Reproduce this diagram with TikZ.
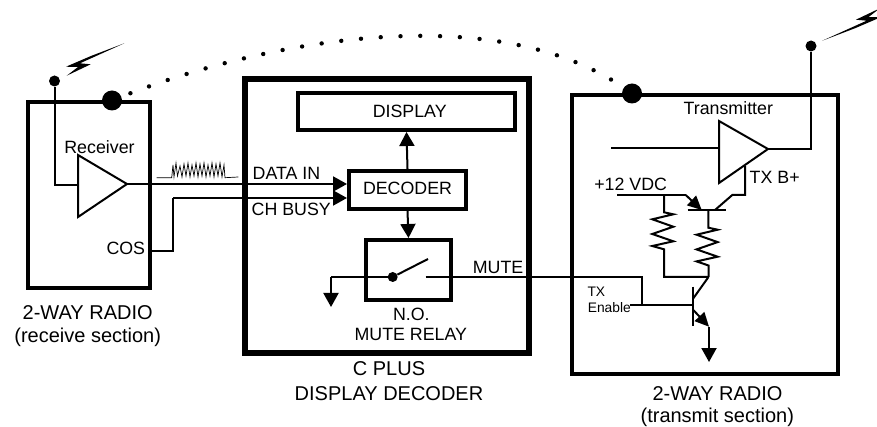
\documentclass[tikz,border=0pt]{standalone}
\usepackage{fontspec}
\setmainfont{Liberation Sans}
\usetikzlibrary{arrows.meta}
\tikzset{
  wire/.style={line width=2pt},
  head/.style={wire,-{Triangle[length=14pt,width=15pt]}},
  box/.style={draw,line width=4pt,inner sep=0pt},
  spot/.style={circle,fill,inner sep=0pt},
  lbl/.style={anchor=base,inner sep=0pt,font=\fontsize{17.8}{20}\selectfont},
  title/.style={anchor=base,inner sep=0pt,font=\fontsize{20}{22}\selectfont},
  small/.style={anchor=base west,inner sep=0pt,font=\fontsize{13.8}{15}\selectfont}
}
\begin{document}
\begin{tikzpicture}[x=1pt,y=-1pt]
      \useasboundingbox (0,0) rectangle (877,427);
      % boxes
      \node[box,minimum width=122pt,minimum height=186pt] (rxbox) at (89.2,195) {};
      \node[box,line width=5.5pt,minimum width=284pt,minimum height=274pt] (cplus) at (387,216) {};
      \node[box,minimum width=266pt,minimum height=279pt] (txbox) at (705,234.5) {};
      \node[box,minimum width=217pt,minimum height=37pt] (display) at (406.5,111.5) {};
      \node[box,minimum width=117pt,minimum height=38pt] (decoder) at (407.5,190) {};
      \node[box,minimum width=85pt,minimum height=60pt] (relay) at (408.5,270) {};
      % texts
      \node[lbl] (displaytxt) at (409.7,117.7) {DISPLAY};
      \node[lbl] (decodertxt) at (407.5,195) {DECODER};
      \node[lbl] (rxtxt) at (99.5,153.3) {Receiver};
      \node[lbl] (costxt) at (125.8,255) {COS};
      \node[lbl,anchor=base west] (datatxt) at (252.5,180) {DATA IN};
      \node[lbl,anchor=base west] (busytxt) at (251.5,216) {CH BUSY};
      \node[lbl,anchor=base west] (mutetxt) at (472.7,274) {MUTE};
      \node[lbl] (notxt) at (411.3,320) {N.O.};
      \node[lbl] (relaytxt) at (410.8,340) {MUTE RELAY};
      \node[lbl] (txtxt) at (728.3,115) {Transmitter};
      \node[lbl] (vdctxt) at (630.7,190.7) {+12 VDC};
      \node[lbl] (bplustxt) at (774.7,183.3) {TX B+};
      \node[small] (entxta) at (587.3,297) {TX};
      \node[small] (entxtb) at (587.6,312.7) {Enable};
      \node[title] (rxcapa) at (87.7,319.3) {2-WAY RADIO};
      \node[title] (rxcapb) at (87.7,342.7) {(receive section)};
      \node[title] (cpcapa) at (389,375) {C PLUS};
      \node[title] (cpcapb) at (389,400) {DISPLAY DECODER};
      \node[title] (txcapa) at (717.5,400) {2-WAY RADIO};
      \node[title] (txcapb) at (717.3,422.7) {(transmit section)};
      % link between the radios
      \node[spot,minimum size=20pt] (rxlink) at (112,100.5) {};
      \node[spot,minimum size=20pt] (txlink) at (632,93.5) {};
      \draw[line width=4.4pt,line cap=round,dash pattern=on 0pt off 19.8pt]
        (rxlink.center) .. controls (260,40) and (500,-5) .. (txlink.center);
      % antennas
      \node[spot,minimum size=11pt] (rxant) at (54.5,81) {};
      \node[spot,minimum size=11pt] (txant) at (811,46) {};
      \fill (124.3,43.3) -- (91.7,55.7) -- (66,66.7) -- (78,67) -- (66.7,75.7)
        -- (90.7,64.3) -- (80,63.3) -- cycle;
      \fill (822.3,40.7) -- (854.9,28.3) -- (880.6,17.3) -- (868.6,17) -- (879.9,8.3)
        -- (855.9,19.7) -- (866.6,20.7) -- cycle;
      % receiver
      \coordinate (rxin) at (78,185);
      \coordinate (rxtop) at (78,155);
      \coordinate (rxbot) at (78,217);
      \coordinate (rxout) at (127,184);
      \coordinate (rxcor) at (54.5,185);
      \draw[wire] (rxtop) -- (rxout) -- (rxbot) -- cycle;
      \draw[wire] (rxant) -- (rxcor) -- (rxin);
      \coordinate (datain) at (347,184);
      \draw[head] (rxout) -- (datain);
      \coordinate (cosa) at (150.5,251);
      \coordinate (cosb) at (173,251);
      \coordinate (cosc) at (173,198);
      \coordinate (busyin) at (347,198);
      \draw[wire] (cosa) -- (cosb) -- (cosc);
      \draw[head] (cosc) -- (busyin);
      \draw[line width=0.7pt] (156.7,177.7) -- (171.7,177.7) -- (173,165) -- (174,177)
        -- (176,163) -- (177.5,176) -- (180,166) -- (182,177) -- (184,164) -- (186,176)
        -- (188,163) -- (190,177) -- (192,165) -- (194,176) -- (196,163) -- (198,177)
        -- (200,164) -- (202,176) -- (204,163) -- (206,177) -- (208,165) -- (210,176)
        -- (212,163) -- (214,177) -- (216,164) -- (218,176) -- (220,163) -- (222,177)
        -- (224,165) -- (225,177.7) -- (238.3,177);
      % decoder
      \draw[head] (decoder.north) -- (display.south);
      \draw[head] (decoder.south) -- (relay.north);
      \node[spot,minimum size=10pt] (pole) at (392.7,277) {};
      \coordinate (polearm) at (428,259);
      \coordinate (gnda) at (331,277);
      \coordinate (gndb) at (331,307);
      \coordinate (contact) at (425.7,277);
      \coordinate (mutea) at (641.7,277);
      \coordinate (muteb) at (641.7,305);
      \draw[wire] (pole) -- (polearm);
      \draw[wire] (pole) -- (gnda);
      \draw[head] (gnda) -- (gndb);
      \draw[wire] (contact) -- (mutea) -- (muteb);
      % transmitter
      \coordinate (txin) at (611,148);
      \coordinate (txleft) at (719,148);
      \coordinate (txtop) at (719,121);
      \coordinate (txbot) at (719,183);
      \coordinate (txout) at (768,149);
      \coordinate (txcor) at (811,149);
      \draw[wire] (txtop) -- (txout) -- (txbot) -- cycle;
      \draw[wire] (txin) -- (txleft);
      \draw[wire] (txant) -- (txcor) -- (txout);
      % pass transistor
      \coordinate (vdc) at (617,195);
      \coordinate (pemita) at (685.7,195);
      \coordinate (pemitb) at (701.7,210);
      \coordinate (pbara) at (687.7,210.5);
      \coordinate (pbarb) at (726,210.5);
      \coordinate (pcola) at (715,210);
      \coordinate (pcolb) at (732.3,195);
      \coordinate (pcolc) at (745,195);
      \coordinate (bplus) at (745,166);
      \coordinate (pbase) at (708.3,210.5);
      \draw[wire] (vdc) -- (pemita);
      \draw[wire,-{Triangle[length=14pt,width=13pt]}] (pemita) -- (pemitb);
      \draw[wire] (pbara) -- (pbarb);
      \draw[wire] (pcola) -- (pcolb) -- (pcolc) -- (bplus);
      % resistors
      \coordinate (ra) at (664,195);
      \coordinate (rb) at (664,277);
      \coordinate (rc) at (708.5,277);
      \draw[wire] (ra) -- (664,212.3) -- ++(9.3,2) -- ++(-21,5) -- ++(21,7.4) -- ++(-21,7.3)
        -- ++(21,7.3) -- ++(-21,4.7) -- (664,249.3) -- (rb) -- (rc);
      \draw[wire] (pbase) -- (708.3,227.7) -- ++(9.3,2) -- ++(-21,5) -- ++(21,7.4) -- ++(-21,7.3)
        -- ++(21,7.3) -- ++(-21,4.7) -- (708.5,265.5) -- (rc);
      % enable transistor
      \coordinate (ena) at (630,305);
      \coordinate (enb) at (693.3,305);
      \coordinate (nbara) at (693.3,286.7);
      \coordinate (nbarb) at (693.3,326);
      \coordinate (ncol) at (693.3,298.3);
      \coordinate (nemit) at (693.3,310);
      \coordinate (nout) at (709,326.7);
      \coordinate (ngnd) at (709,362);
      \draw[wire] (ena) -- (enb);
      \draw[wire] (nbara) -- (nbarb);
      \draw[wire] (ncol) -- (rc);
      \draw[wire,-{Triangle[length=14pt,width=13pt]}] (nemit) -- (nout);
      \draw[head] (nout) -- (ngnd);
    \end{tikzpicture}
\end{document}
